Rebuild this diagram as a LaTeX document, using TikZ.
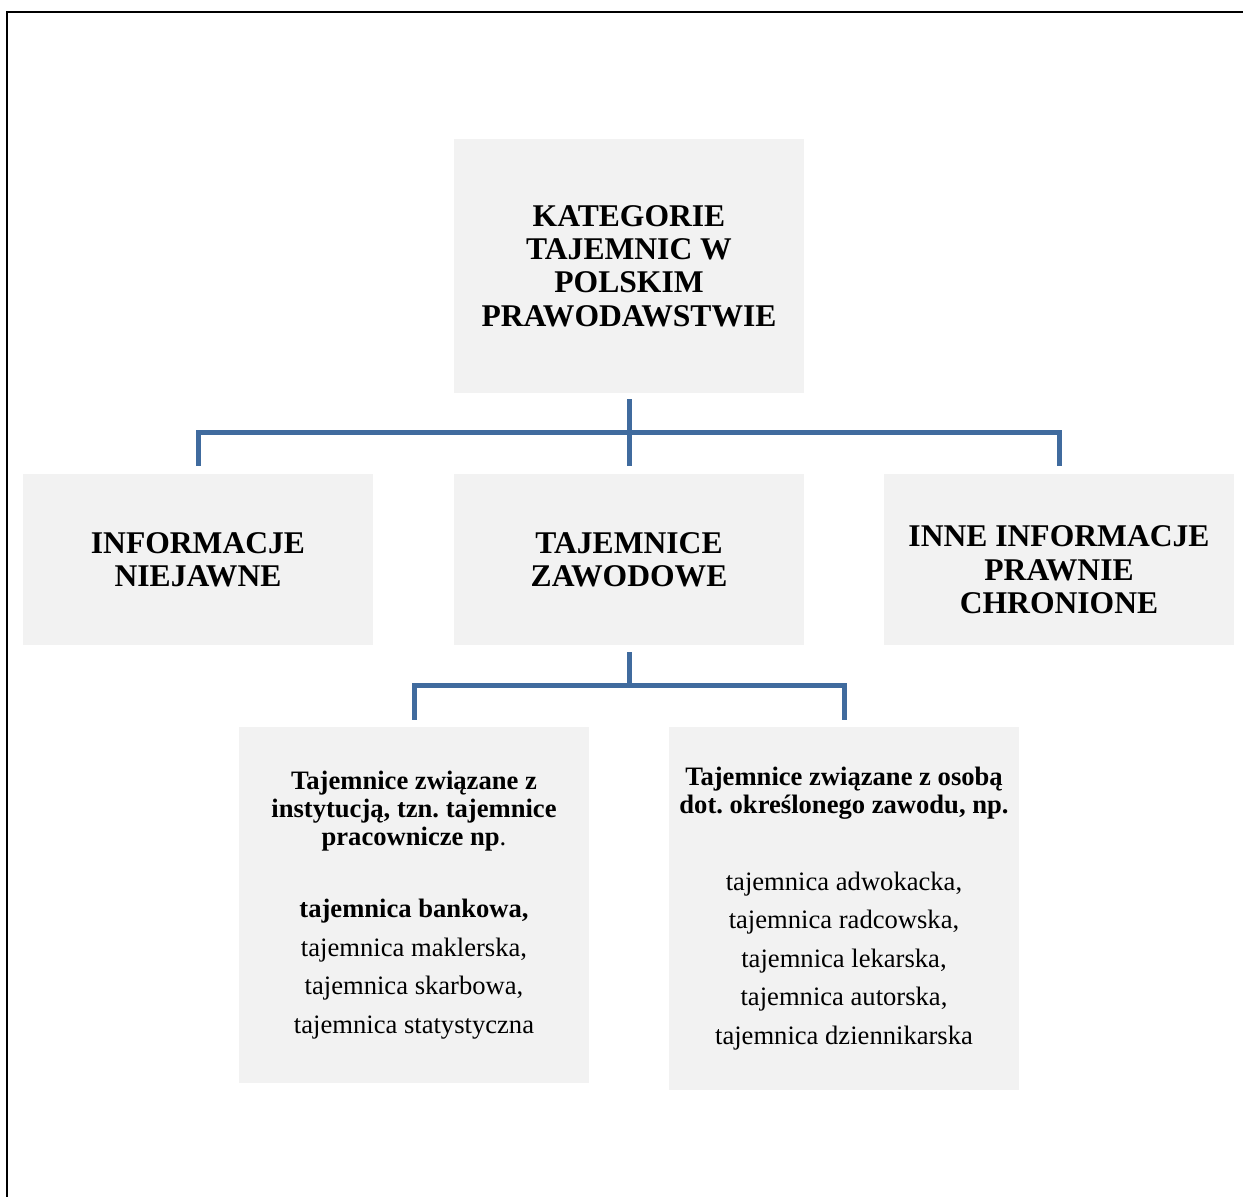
\documentclass[tikz,border=0pt]{standalone}
\usepackage{fontspec}
\setmainfont{Liberation Serif}
\definecolor{boxgray}{HTML}{F2F2F2}
\definecolor{linkblue}{RGB}{64,107,158}
\frenchspacing
\begin{document}
\begin{tikzpicture}[x=0.5pt,y=-0.5pt,
  box/.style={fill=boxgray, minimum width=175pt, align=center, inner sep=1.5pt},
  head/.style={box, font=\bfseries\fontsize{15.8}{16.7}\selectfont},
  detail/.style={box, text width=172pt},
  link/.style={draw=linkblue, line width=2.5pt}]
\useasboundingbox (0,0) rectangle (1243,1197);
\draw[line width=1pt] (1243,12) -- (7,12) -- (7,1197);
\node[head, minimum height=127pt] (kat) at (629,266) {KATEGORIE\\TAJEMNIC W\\POLSKIM\\PRAWODAWSTWIE};
\node[head, minimum height=85.5pt] (niejawne) at (198,559.5) {INFORMACJE\\NIEJAWNE};
\node[head, minimum height=85.5pt] (zawodowe) at (629,559.5) {TAJEMNICE\\ZAWODOWE};
\node[head, minimum height=85.5pt] (inne) at (1059,559.5) {\raisebox{0pt}[\dimexpr\height+14pt\relax]{\begin{tabular}{@{}c@{}}INNE INFORMACJE\\PRAWNIE\\CHRONIONE\end{tabular}}};
\node[detail, minimum height=178pt] (instytucja) at (414,905) {%
  \fontsize{13.3}{14}\selectfont\textbf{Tajemnice związane z\\ instytucją, tzn. tajemnice\\ pracownicze np}.\par
  \vspace{17pt}\fontsize{13.3}{19.25}\selectfont
  \textbf{tajemnica bankowa,}\\ tajemnica maklerska,\\ tajemnica skarbowa,\\ tajemnica statystyczna\par};
\node[detail, minimum height=181.5pt] (osoba) at (844,908.5) {%
  \fontsize{13.3}{14}\selectfont\textbf{Tajemnice związane z osobą\\ dot. określonego zawodu, np.}\par
  \vspace{19pt}\fontsize{13.3}{19.25}\selectfont
  tajemnica adwokacka,\\ tajemnica radcowska,\\ tajemnica lekarska,\\ tajemnica autorska,\\ tajemnica dziennikarska\par};
\coordinate (bus1) at (629,433);
\coordinate (bus2) at (629,686);
\draw[link] ([yshift=-3pt]kat.south) -- ([yshift=4pt]zawodowe.north);
\draw[link] ([yshift=4pt]niejawne.north) |- (bus1) -| ([yshift=4pt]inne.north);
\draw[link] ([yshift=-3.5pt]zawodowe.south) -- (bus2);
\draw[link] ([yshift=3.5pt]instytucja.north) |- (bus2) -| ([yshift=3.5pt]osoba.north);
\end{tikzpicture}
\end{document}
